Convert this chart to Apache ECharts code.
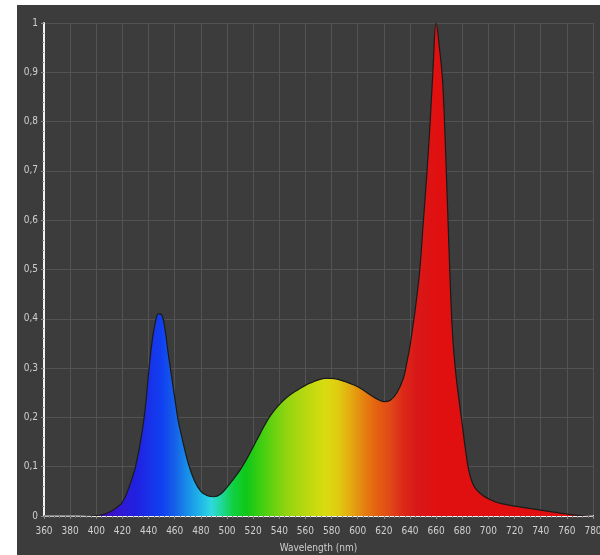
<!DOCTYPE html>
<html>
<head>
<meta charset="utf-8">
<script src="https://cdn.jsdelivr.net/npm/echarts@6/dist/echarts.min.js"></script>
<style>
  html, body { margin: 0; padding: 0; background: #ffffff; width: 600px; height: 555px; overflow: hidden; }
  #chart { position: absolute; left: 17px; top: 5px; width: 583px; height: 550px; background: #3c3c3c; }
</style>
</head>
<body>
<div id="chart"></div>
<script>
// Wavelength (nm) and relative intensity
const wavelengths = [360,380,400,405,410,415,420,425,430,435,437.5,440,442.5,445,447.5,450,452.5,455,457.5,460,462.5,465,470,475,480,485,490,495,500,505,510,515,520,525,530,535,540,545,550,555,560,565,570,575,580,585,590,595,600,605,610,615,620,625,630,635,637.5,640,642.5,645,647.5,650,652.5,655,657.5,660,662.5,665,667.5,670,672.5,675,677.5,680,682.5,685,687.5,690,695,700,705,710,720,730,740,750,760,770,780];
const intensity   = [0,0,0.001,0.003,0.008,0.016,0.028,0.058,0.1,0.17,0.22,0.29,0.35,0.39,0.41,0.408,0.38,0.33,0.285,0.24,0.196,0.165,0.11,0.072,0.05,0.041,0.039,0.044,0.058,0.075,0.093,0.115,0.14,0.165,0.19,0.21,0.226,0.239,0.249,0.257,0.265,0.271,0.276,0.279,0.279,0.277,0.273,0.268,0.262,0.254,0.245,0.237,0.232,0.235,0.25,0.28,0.31,0.345,0.39,0.44,0.5,0.59,0.68,0.78,0.9,1.0,0.95,0.88,0.72,0.53,0.37,0.29,0.235,0.185,0.133,0.092,0.069,0.056,0.043,0.035,0.029,0.025,0.02,0.016,0.012,0.008,0.004,0.001,0];
const xTicks = { min: 360, max: 780, step: 20 };
const yTicks = { min: 0, max: 1, step: 0.1 };
const axisTitle = 'Wavelength (nm)';
// spectrum colours by wavelength
const spectrumNm    = [360,400,410,420,430,440,450,460,470,480,488,495,505,515,530,545,560,575,585,595,605,615,625,635,645,660,780];
const spectrumColor = ['#2a1a80','#3010a0','#3a10c0','#2f1ad8','#2020e0','#1a30e8','#1040f0','#1560e8','#1890e8','#20b8e8','#30d8e0','#20d8a0','#10d040','#10c818','#50d010','#90d410','#b8d810','#d8dc10','#e0cc10','#e4a810','#e48010','#e46010','#e04818','#dc2818','#d81818','#e01010','#e01010'];

const data = wavelengths.map((w, i) => [w, intensity[i]]);
const stops = spectrumNm.map((w, i) => ({ offset: (w - xTicks.min) / (xTicks.max - xTicks.min), color: spectrumColor[i] }));

const labelFont = 'Liberation Sans Narrow, DejaVu Sans Condensed, Arial Narrow, sans-serif';
const el = document.getElementById('chart');
const chart = echarts.init(el, null, { renderer: 'canvas' });
chart.setOption({
  backgroundColor: '#3c3c3c',
  animation: false,
  grid: { left: 27, right: 7, top: 18, bottom: 39, containLabel: false, outerBoundsMode: 'none' },
  xAxis: {
    type: 'value', min: xTicks.min, max: xTicks.max, interval: xTicks.step,
    name: axisTitle, nameLocation: 'middle', nameGap: 27,
    nameTextStyle: { color: '#cfcfcf', fontSize: 10, fontFamily: labelFont },
    axisLine: { show: true, lineStyle: { color: '#f2f0f0', width: 2 } },
    axisTick: { show: true, length: 3, lineStyle: { color: '#8a8a8a' } },
    minorTick: { show: true, splitNumber: 5, length: 2, lineStyle: { color: '#777' } },
    axisLabel: { color: '#d0d0d0', fontSize: 10, fontFamily: labelFont, margin: 10 },
    splitLine: { show: true, lineStyle: { color: '#535353', width: 1 } }
  },
  yAxis: {
    type: 'value', min: yTicks.min, max: yTicks.max, interval: yTicks.step,
    axisLine: { show: true, lineStyle: { color: '#f2f0f0', width: 2 } },
    axisTick: { show: true, length: 3, lineStyle: { color: '#8a8a8a' } },
    minorTick: { show: true, splitNumber: 5, length: 2, lineStyle: { color: '#777' } },
    axisLabel: { color: '#d0d0d0', fontSize: 10, fontFamily: labelFont, margin: 6,
      formatter: v => String(Math.round(v * 10) / 10).replace('.', ',') },
    splitLine: { show: true, lineStyle: { color: '#535353', width: 1 } }
  },
  series: [{
    type: 'line',
    data: data,
    smooth: 0.4,
    showSymbol: false,
    lineStyle: { color: '#1a1a1a', width: 1.2 },
    areaStyle: { opacity: 1, color: new echarts.graphic.LinearGradient(0, 0, 1, 0, stops) },
    z: 3
  }]
});
</script>
</body>
</html>
